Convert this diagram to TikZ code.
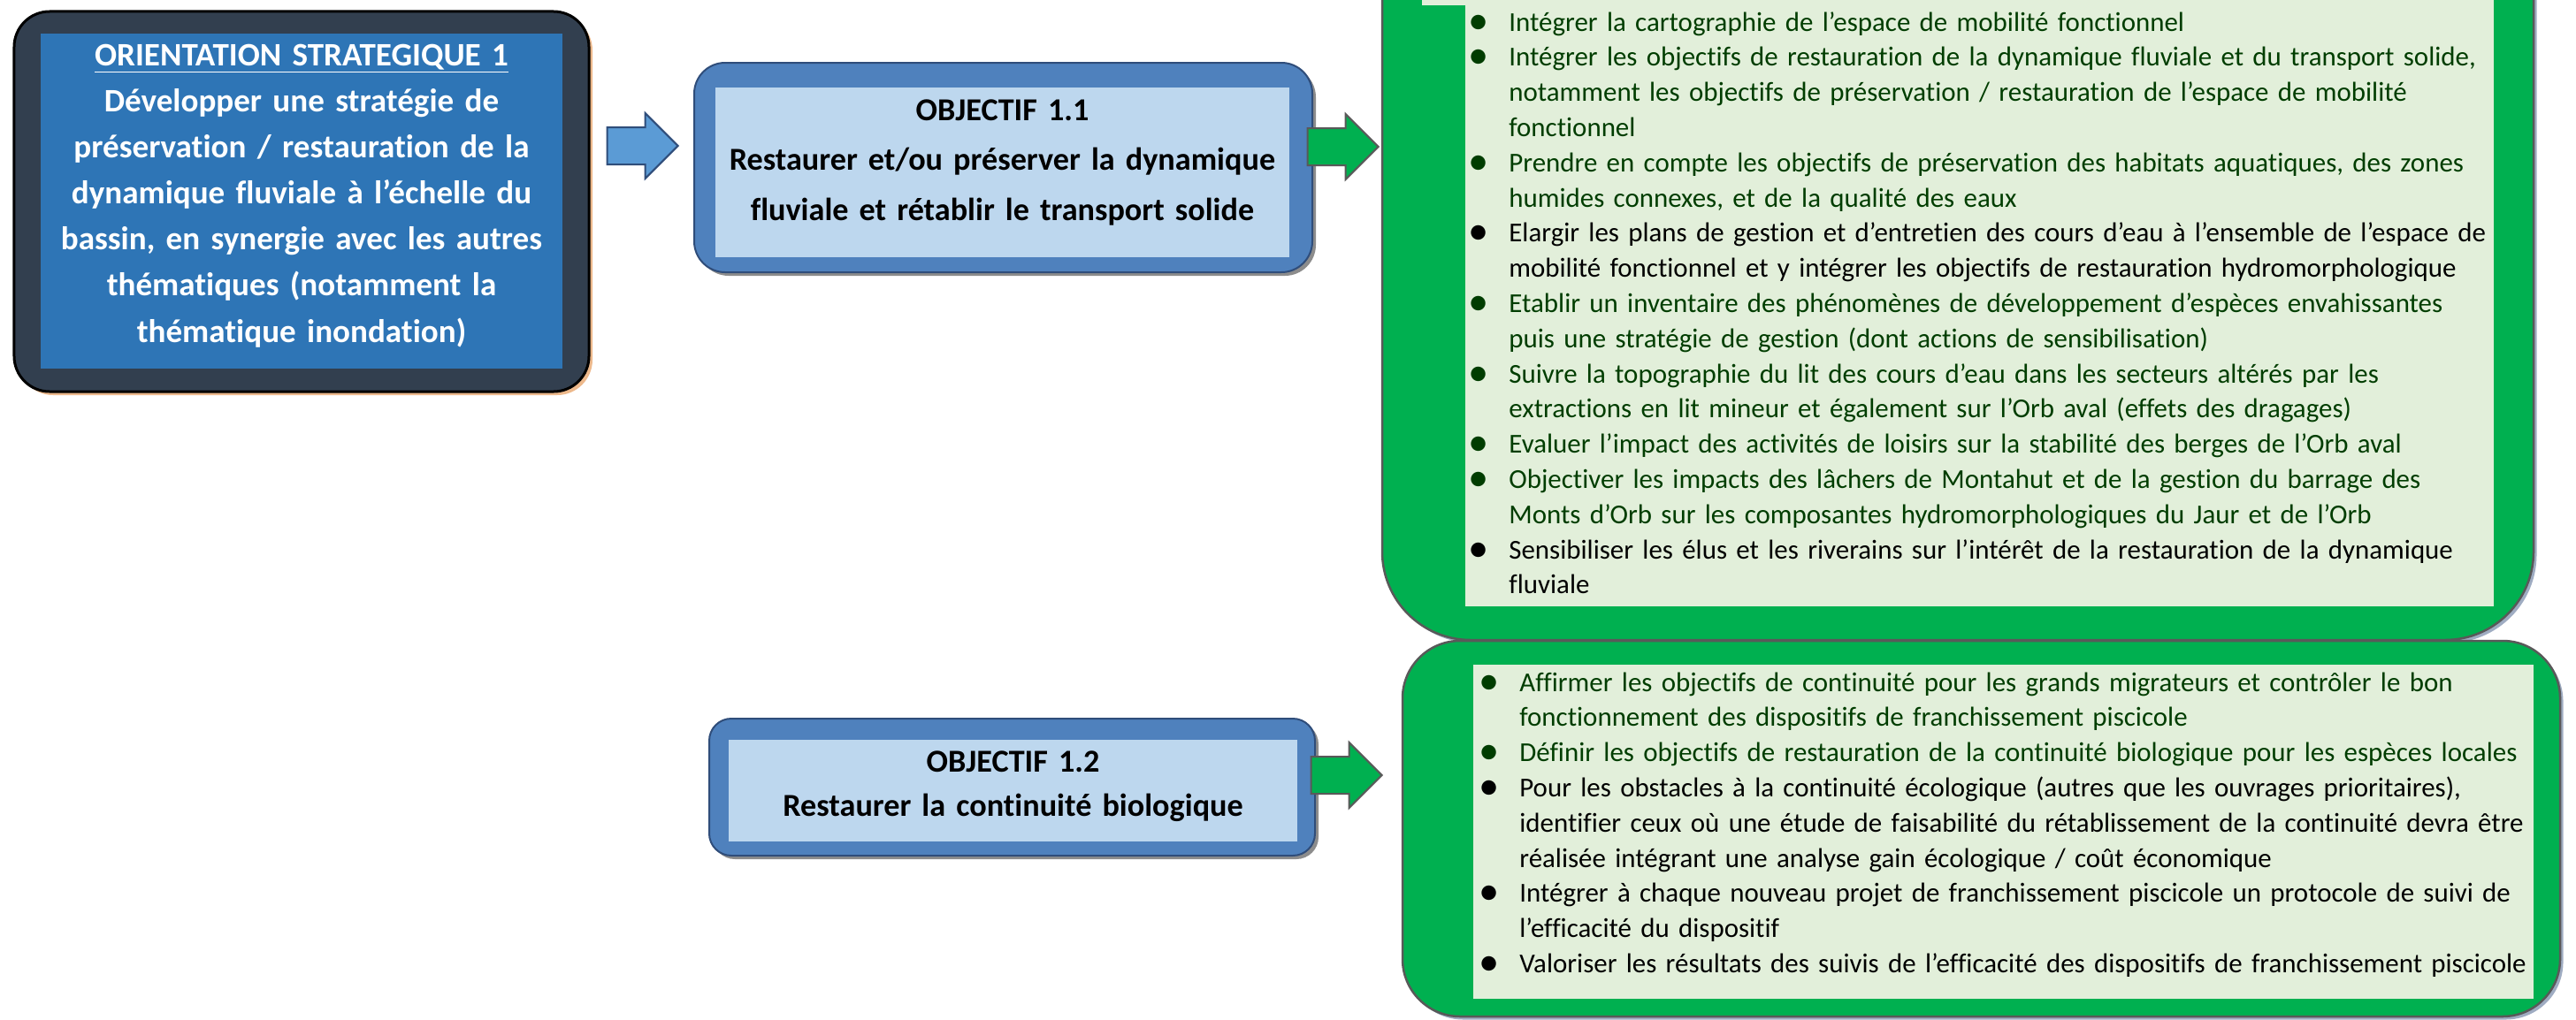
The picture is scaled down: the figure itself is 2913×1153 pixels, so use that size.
\documentclass[tikz,border=0pt]{standalone}
\usepackage{fontspec}
\setmainfont{Carlito}[Ligatures=NoCommon]
\usepackage{tikz}
\usetikzlibrary{shapes.arrows}
\usetikzlibrary{shadows}
\definecolor{slate}{HTML}{323F4F}
\definecolor{orientblue}{HTML}{2E75B6}
\definecolor{tanshadow}{HTML}{EDB98C}
\definecolor{objblue}{HTML}{4F81BD}
\definecolor{objborder}{HTML}{2F4D7A}
\definecolor{paleblue}{HTML}{BDD7EE}
\definecolor{arrowblue}{HTML}{5B9BD5}
\definecolor{mygreen}{HTML}{00B050}
\definecolor{palegreen}{HTML}{E2EFDA}
\definecolor{bordergrey}{HTML}{595959}
\definecolor{blueshadow}{HTML}{9FACC2}
\definecolor{dkgreen}{HTML}{003D00}
\newlength{\bulw}
\setlength{\bulw}{9.2mm}
\newcommand{\bul}{\makebox[\bulw][l]{\raisebox{-0.6mm}{\scalebox{1.5}{\textbullet}}}}
\newcommand{\itm}[2]{{\color{#1}\bul#2}}
\newcommand{\cnt}[2]{{\color{#1}\hspace*{\bulw}#2}}
\tikzset{
  orientout/.style={rectangle, rounded corners=8mm, fill=slate, draw=black, line width=0.6mm,
    drop shadow={shadow xshift=0.8mm, shadow yshift=-0.8mm, fill=tanshadow, opacity=1}},
  orientin/.style={rectangle, fill=orientblue, inner sep=0pt},
  orienttxt/.style={text=white, font=\bfseries\fontsize{21.1pt}{29.7pt}\selectfont, align=center, inner sep=0pt},
  objout/.style={rectangle, fill=objblue, draw=objborder, line width=0.4mm,
    drop shadow={shadow xshift=0.8mm, shadow yshift=-0.8mm, fill=black!45, opacity=1}},
  objin/.style={rectangle, fill=paleblue, inner sep=0pt},
  objtxt/.style={text=black, align=center, inner sep=0pt},
  greenout/.style={rectangle, fill=mygreen, draw=bordergrey, line width=0.5mm,
    drop shadow={shadow xshift=0.7mm, shadow yshift=-0.7mm, fill=blueshadow, opacity=1}},
  greenin/.style={rectangle, fill=palegreen, inner sep=0pt},
  listtxt/.style={text=black, font=\fontsize{17.6pt}{22.65pt}\selectfont, align=left, inner sep=0pt},
  fatarrow/.style={single arrow, line width=0.4mm, minimum height=16mm, inner xsep=0pt, inner ysep=4mm,
    single arrow head extend=3.2mm, single arrow tip angle=90, anchor=tip},
}

\begin{document}
\begin{tikzpicture}[x=0.2mm,y=-0.2mm]
  \useasboundingbox (0,0) rectangle (2913,1153);
  % orientation
  \node[orientout, minimum width=130mm, minimum height=86mm] (orient) at (341,228) {};
  \node[orientin, minimum width=118mm, minimum height=75.8mm] (orientbg) at (341,227.5) {};
  \node[orienttxt, text width=118mm, anchor=base] (orienttext) at (341,74)
    {\underline{ORIENTATION STRATEGIQUE 1}\\
     Développer une stratégie de\\
     préservation / restauration de la\\
     dynamique fluviale à l’échelle du\\
     bassin, en synergie avec les autres\\
     thématiques (notamment la\\
     thématique inondation)};
  \node[fatarrow, draw=objborder, fill=arrowblue] (arrow0) at (768,165) {};
  % objectif 1.1
  \node[objout, rounded corners=7mm, minimum width=139.8mm, minimum height=47.4mm] (obj1) at (1134.5,189.5) {};
  \node[objin, minimum width=129.8mm, minimum height=38.4mm] (obj1bg) at (1133.5,195) {};
  \node[objtxt, font=\bfseries\fontsize{20.6pt}{32.4pt}\selectfont, text width=129.8mm, anchor=base] (obj1text) at (1133.5,136)
    {OBJECTIF 1.1\\
     Restaurer et/ou préserver la dynamique\\
     fluviale et rétablir le transport solide};
  \node[fatarrow, draw=bordergrey, fill=mygreen] (arrow1) at (1560,166) {};
  % objectif 1.2
  \node[objout, rounded corners=5mm, minimum width=137mm, minimum height=31mm] (obj2) at (1144.5,890.5) {};
  \node[objin, minimum width=128.6mm, minimum height=23mm] (obj2bg) at (1145.5,894.5) {};
  \node[objtxt, font=\bfseries\fontsize{20.6pt}{28.5pt}\selectfont, text width=128.6mm, anchor=base] (obj2text) at (1145.5,873)
    {OBJECTIF 1.2\\
     Restaurer la continuité biologique};
  \node[fatarrow, draw=bordergrey, fill=mygreen] (arrow2) at (1564,877) {};
  % actions 1.1
  \node[greenout, rounded corners=20mm, minimum width=260.4mm, minimum height=168.8mm] (act1) at (2214,302) {};
  \node[greenin, minimum width=232.6mm, minimum height=141.2mm] (act1bg) at (2238.5,333) {};
  \fill[palegreen] (1608,0) rectangle (1658,6);
  \node[listtxt, text width=250mm, anchor=base west] (act1text) at (1660,35)
    {\itm{dkgreen}{Intégrer la cartographie de l’espace de mobilité fonctionnel}\\
     \itm{dkgreen}{Intégrer les objectifs de restauration de la dynamique fluviale et du transport solide,}\\
     \cnt{dkgreen}{notamment les objectifs de préservation / restauration de l’espace de mobilité}\\
     \cnt{dkgreen}{fonctionnel}\\
     \itm{dkgreen}{Prendre en compte les objectifs de préservation des habitats aquatiques, des zones}\\
     \cnt{dkgreen}{humides connexes, et de la qualité des eaux}\\
     \itm{black}{Elargir les plans de gestion et d’entretien des cours d’eau à l’ensemble de l’espace de}\\
     \cnt{black}{mobilité fonctionnel et y intégrer les objectifs de restauration hydromorphologique}\\
     \itm{dkgreen}{Etablir un inventaire des phénomènes de développement d’espèces envahissantes}\\
     \cnt{dkgreen}{puis une stratégie de gestion (dont actions de sensibilisation)}\\
     \itm{dkgreen}{Suivre la topographie du lit des cours d’eau dans les secteurs altérés par les}\\
     \cnt{dkgreen}{extractions en lit mineur et également sur l’Orb aval (effets des dragages)}\\
     \itm{dkgreen}{Evaluer l’impact des activités de loisirs sur la stabilité des berges de l’Orb aval}\\
     \itm{dkgreen}{Objectiver les impacts des lâchers de Montahut et de la gestion du barrage des}\\
     \cnt{dkgreen}{Monts d’Orb sur les composantes hydromorphologiques du Jaur et de l’Orb}\\
     \itm{black}{Sensibiliser les élus et les riverains sur l’intérêt de la restauration de la dynamique}\\
     \cnt{black}{fluviale}};
  % actions 1.2
  \node[greenout, rounded corners=13mm, minimum width=261.8mm, minimum height=85mm] (act2) at (2240.5,937.5) {};
  \node[greenin, minimum width=239.8mm, minimum height=75.6mm] (act2bg) at (2265.5,941) {};
  \node[listtxt, text width=250mm, anchor=base west] (act2text) at (1672,782)
    {\itm{dkgreen}{Affirmer les objectifs de continuité pour les grands migrateurs et contrôler le bon}\\
     \cnt{dkgreen}{fonctionnement des dispositifs de franchissement piscicole}\\
     \itm{dkgreen}{Définir les objectifs de restauration de la continuité biologique pour les espèces locales}\\
     \itm{black}{Pour les obstacles à la continuité écologique (autres que les ouvrages prioritaires),}\\
     \cnt{black}{identifier ceux où une étude de faisabilité du rétablissement de la continuité devra être}\\
     \cnt{black}{réalisée intégrant une analyse gain écologique / coût économique}\\
     \itm{black}{Intégrer à chaque nouveau projet de franchissement piscicole un protocole de suivi de}\\
     \cnt{black}{l’efficacité du dispositif}\\
     \itm{black}{Valoriser les résultats des suivis de l’efficacité des dispositifs de franchissement piscicole}};
\end{tikzpicture}
\end{document}
